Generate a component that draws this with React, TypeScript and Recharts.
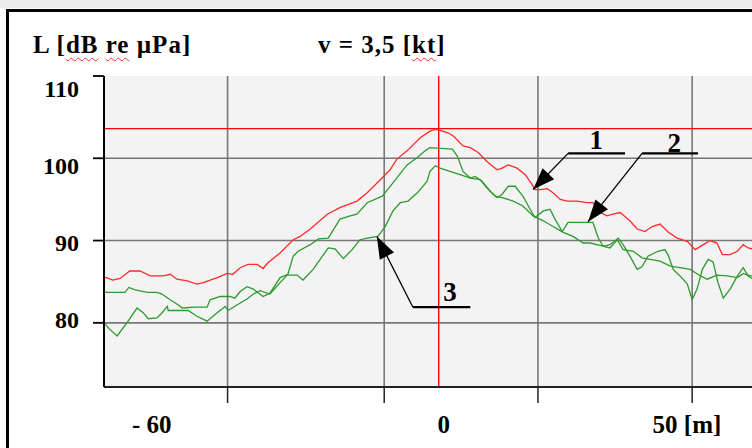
import React from 'react'
import {
  LineChart, Line, XAxis, YAxis, CartesianGrid, ReferenceLine, ReferenceDot,
} from 'recharts'

// x in metres, y in dB re µPa
const curve1 = [
  [-68.8, 85.6], [-67.0, 85.2], [-65.5, 85.4], [-63.5, 86.3], [-61.4, 86.3], [-59.3, 85.7],
  [-56.6, 85.7], [-55.2, 85.9], [-53.8, 85.3], [-51.7, 85.1], [-49.7, 84.7], [-48.4, 84.9],
  [-45.5, 85.5], [-43.5, 86.0], [-42.3, 85.9], [-40.8, 86.7], [-39.2, 87.1], [-37.3, 87.1],
  [-36.1, 86.6], [-35.1, 87.3], [-32.6, 88.5], [-29.9, 90.1], [-28.5, 90.5], [-26.4, 91.4],
  [-22.9, 93.2], [-20.3, 94.0], [-16.8, 94.8], [-14.7, 95.8], [-12.0, 97.4], [-10.0, 98.6],
  [-8.6, 99.9], [-6.5, 100.9], [-3.8, 102.5], [-1.8, 103.3], [-0.7, 103.5], [0.3, 103.4],
  [1.9, 103.1], [3.0, 102.7], [5.0, 101.5], [6.5, 101.3], [8.1, 100.7], [9.9, 99.6],
  [12.0, 98.6], [13.0, 98.8], [14.3, 99.2], [16.1, 98.8], [17.8, 98.0], [19.2, 96.8],
  [19.8, 96.2], [20.9, 96.2], [22.3, 96.3], [23.5, 95.8], [25.0, 95.0], [26.4, 94.8],
  [28.4, 94.8], [30.5, 94.6], [31.7, 94.6], [33.2, 93.4], [34.6, 93.0], [35.8, 93.2],
  [37.3, 93.4], [39.3, 92.4], [40.8, 91.4], [42.4, 91.1], [43.9, 91.7], [45.5, 92.0],
  [47.2, 91.0], [49.0, 90.3], [51.1, 89.9], [52.7, 88.9], [54.4, 89.5], [55.8, 90.0],
  [57.2, 89.7], [58.3, 88.3], [59.9, 88.3], [61.4, 88.7], [62.6, 89.5], [63.6, 89.1],
  [64.4, 89.0],
]

const curve2 = [
  [-68.8, 83.7], [-67.0, 83.7], [-64.5, 83.7], [-63.7, 84.3], [-62.4, 84.0], [-59.9, 83.7],
  [-57.9, 83.7], [-56.9, 83.5], [-55.2, 82.8], [-53.6, 82.2], [-52.7, 81.8], [-50.1, 81.9],
  [-47.6, 81.9], [-47.0, 82.8], [-44.9, 83.2], [-42.9, 83.2], [-41.9, 83.0], [-40.8, 83.8],
  [-39.4, 84.4], [-38.1, 84.1], [-36.1, 83.2], [-34.7, 83.6], [-32.6, 85.5], [-31.0, 85.9],
  [-29.9, 88.1], [-28.9, 88.7], [-26.4, 89.5], [-24.7, 90.2], [-22.7, 90.3], [-20.3, 92.6],
  [-18.2, 93.0], [-16.8, 93.2], [-14.7, 94.6], [-11.6, 95.4], [-9.4, 97.0], [-6.5, 99.2],
  [-4.4, 100.1], [-2.8, 100.9], [-1.8, 101.3], [0.3, 101.2], [2.8, 101.1], [3.8, 100.3],
  [5.0, 98.4], [6.5, 97.6], [7.5, 97.8], [8.9, 97.2], [10.6, 96.0], [12.0, 95.2],
  [13.0, 95.6], [14.3, 96.6], [15.7, 96.6], [17.3, 95.4], [18.8, 93.8], [19.8, 92.8],
  [21.5, 93.6], [22.9, 93.8], [23.9, 92.6], [25.4, 91.1], [26.6, 92.2], [28.4, 92.2],
  [31.7, 92.2], [32.8, 90.3], [33.8, 89.3], [35.2, 89.5], [36.9, 90.3], [37.9, 89.5],
  [39.3, 88.1], [40.8, 86.5], [41.8, 86.8], [43.0, 88.1], [45.1, 88.7], [46.5, 88.9],
  [47.2, 88.2], [48.2, 86.5], [49.6, 85.7], [51.1, 84.7], [52.1, 82.8], [53.1, 84.1],
  [54.2, 86.5], [55.4, 87.7], [56.4, 87.4], [57.4, 84.9], [58.5, 83.0], [59.9, 84.1],
  [61.4, 85.7], [62.6, 86.7], [63.6, 85.7], [64.4, 85.4],
]

const curve3 = [
  [-68.8, 80.0], [-67.6, 79.2], [-66.1, 78.4], [-64.1, 80.0], [-62.0, 81.8], [-60.7, 81.2],
  [-59.7, 80.5], [-57.9, 80.6], [-56.9, 81.2], [-55.8, 82.0], [-55.6, 81.5], [-51.5, 81.5],
  [-49.7, 80.8], [-47.6, 80.2], [-46.0, 81.0], [-43.9, 82.0], [-43.3, 81.5], [-41.4, 82.2],
  [-39.4, 82.9], [-38.1, 83.5], [-36.7, 83.9], [-34.7, 83.5], [-31.2, 85.8], [-29.1, 85.8],
  [-27.9, 85.2], [-25.8, 86.5], [-23.9, 88.1], [-22.7, 89.1], [-21.3, 89.0], [-19.6, 87.8],
  [-17.8, 88.9], [-16.2, 90.1], [-14.7, 90.3], [-12.5, 90.5], [-11.0, 91.7], [-9.4, 93.6],
  [-7.9, 94.6], [-6.3, 94.8], [-4.4, 95.8], [-2.4, 97.2], [-1.8, 98.4], [-0.7, 99.1],
  [0.3, 98.8], [2.3, 98.4], [4.4, 98.0], [6.5, 97.6], [8.5, 97.4], [9.9, 96.4],
  [11.6, 95.4], [13.2, 95.2], [15.3, 94.8], [17.3, 94.2], [19.4, 93.0], [21.5, 92.4],
  [23.5, 91.7], [25.6, 91.0], [27.6, 90.5], [29.7, 89.7], [31.1, 89.7], [33.2, 89.4],
  [35.2, 89.1], [36.7, 90.1], [37.9, 88.9], [40.0, 88.7], [41.8, 87.9], [43.5, 87.7],
  [45.5, 87.5], [47.6, 86.9], [49.6, 86.7], [51.7, 86.5], [53.8, 85.7], [55.2, 85.3],
  [57.2, 85.8], [59.3, 85.7], [61.4, 85.5], [62.6, 86.0], [64.0, 85.7], [64.4, 85.7],
]

const X_DOMAIN = [-68.8, 64.4]
const Y_DOMAIN = [72.2, 110]
const gridX = [-43.4, -11.2, 20.4, 52.1]
const gridY = [80, 90, 100]
const yTicks = [80, 90, 100, 110]
const xLabelTicks = [-60, 0, 50]
const refLevel = 103.6

// annotation callouts: tip of arrow, elbow, end of underline, label position
const callouts = [
  { name: '1', tip: [19.4, 96.2], elbow: [26.6, 100.6], end: [38.3, 100.6], label: [32.4, 101.1] },
  { name: '2', tip: [30.7, 92.3], elbow: [41.8, 100.6], end: [53.3, 100.6], label: [48.4, 100.8] },
  { name: '3', tip: [-12.7, 90.5], elbow: [-5.3, 81.9], end: [6.5, 81.9], label: [2.3, 82.6] },
]

const toPts = (arr: number[][]) => arr.map(([x, y]) => ({ x, y }))

const FONT = '"Liberation Serif", "Times New Roman", serif'
const Y_NUDGE: Record<number, number> = { 110: 13, 100: 8, 90: 2, 80: -3 }

function YTick({ x, y, payload }: any) {
  return (
    <text x={x} y={y + (Y_NUDGE[payload.value] ?? 0) + 8} textAnchor="end"
      fontFamily={FONT} fontSize={24} fontWeight="bold" fill="#000">
      {payload.value}
    </text>
  )
}

function XTick({ x, y, payload }: any) {
  const v = payload.value
  const txt = v < 0 ? `- ${-v}` : v === 50 ? '50 [m]' : String(v)
  return (
    <text x={x + 5} y={y + 30} textAnchor="middle"
      fontFamily={FONT} fontSize={25} fontWeight="bold" fill="#000">
      {txt}
    </text>
  )
}

const NoLabel = () => <g />

function Leader(p: any) {
  const { x1, y1, x2, y2 } = p
  const a = Math.atan2(y2 - y1, x2 - x1)
  const len = 22, hw = 8
  const bx = x1 + len * Math.cos(a), by = y1 + len * Math.sin(a)
  const nx = -Math.sin(a) * hw, ny = Math.cos(a) * hw
  return (
    <g>
      <line x1={x1} y1={y1} x2={x2} y2={y2} stroke="#000" strokeWidth={1.3} />
      <polygon points={`${x1},${y1} ${bx + nx},${by + ny} ${bx - nx},${by - ny}`} fill="#000" />
    </g>
  )
}

const wavy: React.CSSProperties = {
  textDecorationLine: 'underline',
  textDecorationStyle: 'wavy',
  textDecorationColor: '#ff3030',
  textDecorationThickness: '1px',
  textUnderlineOffset: '4px',
}

const titleStyle: React.CSSProperties = {
  position: 'absolute', top: 32, fontFamily: FONT, fontWeight: 'bold',
  fontSize: 25, lineHeight: '25px', letterSpacing: 1, color: '#000', whiteSpace: 'nowrap',
}

export default function App() {
  return (
    <div style={{ position: 'absolute', left: 0, top: 0, width: 752, height: 448, background: '#fff', overflow: 'hidden' }}>
      <div style={{ position: 'absolute', left: 0, top: 0, width: 752, height: 8, background: '#ececec' }} />
      <div style={{ position: 'absolute', left: 6, top: 9, width: 800, height: 500, borderLeft: '3px solid #000', borderTop: '3px solid #000' }} />
      <div style={{ ...titleStyle, left: 33 }}>
        L [<span style={wavy}>dB</span> <span style={wavy}>re</span> µPa]
      </div>
      <div style={{ ...titleStyle, left: 318 }}>
        v = 3,5 [<span style={wavy}>kt</span>]
      </div>
      <div style={{ position: 'absolute', left: 0, top: 0 }}>
        <LineChart width={752} height={448} margin={{ top: 76, right: 0, left: 0, bottom: 0 }}>
          <CartesianGrid horizontal={false} vertical={false} fill="#f3f3f3" stroke="none" />
          <XAxis xAxisId="g" type="number" dataKey="x" domain={X_DOMAIN} allowDataOverflow
            ticks={gridX} tick={<NoLabel />} tickSize={16} height={16}
            axisLine={{ stroke: '#222', strokeWidth: 2 }} tickLine={{ stroke: '#222', strokeWidth: 1.5 }} />
          <XAxis xAxisId="lab" type="number" dataKey="x" domain={X_DOMAIN} allowDataOverflow
            ticks={xLabelTicks} tick={<XTick />} tickSize={0} tickMargin={0} height={45}
            axisLine={false} tickLine={false} />
          <YAxis type="number" domain={Y_DOMAIN} allowDataOverflow ticks={yTicks} width={104}
            tick={<YTick />} tickSize={11} tickMargin={14}
            axisLine={{ stroke: '#000', strokeWidth: 2 }} tickLine={{ stroke: '#000', strokeWidth: 1.8 }} />
          {gridX.map(v => (
            <ReferenceLine key={'gx' + v} xAxisId="g" x={v} stroke="#777" strokeWidth={1.6} />
          ))}
          {gridY.map(v => (
            <ReferenceLine key={'gy' + v} xAxisId="g" y={v} stroke="#777" strokeWidth={1.6} />
          ))}
          <ReferenceLine xAxisId="g" x={0} stroke="#ff0000" strokeWidth={1.4} />
          <ReferenceLine xAxisId="g" y={refLevel} stroke="#ff0000" strokeWidth={1.4} />
          <Line xAxisId="g" data={toPts(curve3)} dataKey="y" type="linear" stroke="#2f9a2f"
            strokeWidth={1.3} dot={false} isAnimationActive={false} />
          <Line xAxisId="g" data={toPts(curve2)} dataKey="y" type="linear" stroke="#2f9a2f"
            strokeWidth={1.3} dot={false} isAnimationActive={false} />
          <Line xAxisId="g" data={toPts(curve1)} dataKey="y" type="linear" stroke="#ff2a2a"
            strokeWidth={1.3} dot={false} isAnimationActive={false} />
          {callouts.map(c => (
            <ReferenceLine key={'ld' + c.name} xAxisId="g" ifOverflow="visible"
              segment={[{ x: c.tip[0], y: c.tip[1] }, { x: c.elbow[0], y: c.elbow[1] }]}
              shape={Leader} />
          ))}
          {callouts.map(c => (
            <ReferenceLine key={'ul' + c.name} xAxisId="g" ifOverflow="visible"
              segment={[{ x: c.elbow[0], y: c.elbow[1] }, { x: c.end[0], y: c.end[1] }]}
              stroke="#000" strokeWidth={2.2} />
          ))}
          {callouts.map(c => (
            <ReferenceDot key={'lb' + c.name} xAxisId="g" x={c.label[0]} y={c.label[1]} r={1}
              ifOverflow="visible"
              shape={(p: any) => (
                <text x={p.cx} y={p.cy} textAnchor="middle" fontFamily={FONT}
                  fontSize={27} fontWeight="bold" fill="#000">{c.name}</text>
              )} />
          ))}
        </LineChart>
      </div>
    </div>
  )
}
